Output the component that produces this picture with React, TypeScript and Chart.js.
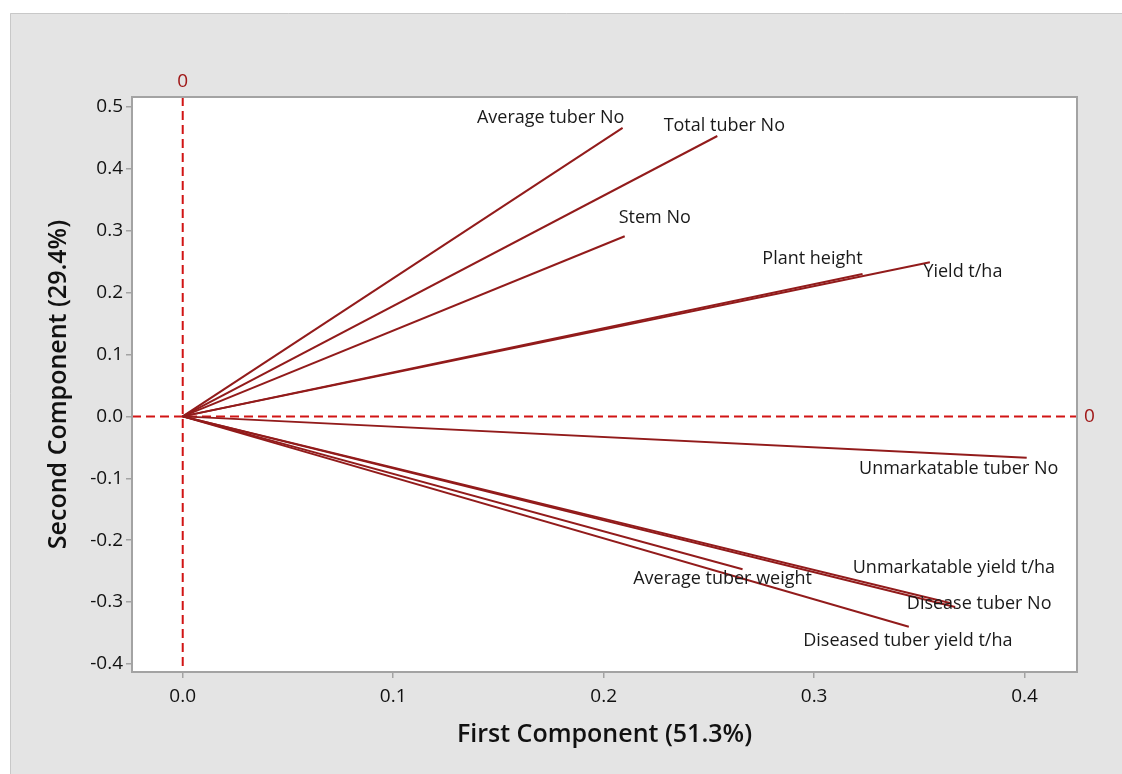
import React, { useEffect, useRef } from 'react';
import { Chart, registerables } from 'chart.js';

Chart.register(...registerables);

// ---- data (loadings) ----
const variables = [
  'Average tuber No',
  'Total tuber No',
  'Stem No',
  'Plant height',
  'Yield t/ha',
  'Unmarkatable tuber No',
  'Unmarkatable yield t/ha',
  'Disease tuber No',
  'Average tuber weight',
  'Diseased tuber yield t/ha',
];
const pc1 = [0.209, 0.254, 0.210, 0.323, 0.355, 0.401, 0.365, 0.367, 0.266, 0.345];
const pc2 = [0.466, 0.453, 0.291, 0.230, 0.249, -0.067, -0.302, -0.308, -0.247, -0.340];

const xRange = [-0.0241, 0.4249];
const yRange = [-0.413, 0.516];
const tickStep = 0.1;
const referenceLines = [0];
const xTitle = 'First Component (51.3%)';
const yTitle = 'Second Component (29.4%)';

// label placement: pixel offset of the text centre from the vector tip
const labelOffsets: number[][] = [
  [-72, -10],
  [7, -10],
  [30, -18],
  [-50, -15],
  [33, 10],
  [-68, 11],
  [3, -35],
  [24, -3],
  [-20, 10],
  [-1, 14],
];

const FONT = '"Open Sans", "Noto Sans", sans-serif';
const LINE_COLOR = '#921b1b';
const REF_COLOR = '#d11414';
const REF_LABEL_COLOR = '#a01818';
const FRAME_COLOR = '#a3a3a3';

const decorPlugin = {
  id: 'decor',
  beforeDraw(chart: any) {
    const { ctx, chartArea: a, width, height } = chart;
    ctx.save();
    ctx.fillStyle = '#ffffff';
    ctx.fillRect(0, 0, width, height);
    ctx.fillStyle = '#e4e4e4';
    ctx.fillRect(10, 13, width - 10, height - 13);
    ctx.strokeStyle = '#c8c8c8';
    ctx.lineWidth = 1;
    ctx.beginPath();
    ctx.moveTo(10.5, height);
    ctx.lineTo(10.5, 13.5);
    ctx.lineTo(width, 13.5);
    ctx.stroke();
    ctx.fillStyle = '#ffffff';
    ctx.fillRect(a.left, a.top, a.right - a.left, a.bottom - a.top);
    ctx.restore();
  },
  beforeDatasetsDraw(chart: any) {
    const { ctx, chartArea: a, scales } = chart;
    ctx.save();
    ctx.strokeStyle = REF_COLOR;
    ctx.lineWidth = 2;
    ctx.setLineDash([9, 5]);
    referenceLines.forEach((v) => {
      const px = scales.x.getPixelForValue(v);
      ctx.beginPath();
      ctx.moveTo(px, a.top);
      ctx.lineTo(px, a.bottom);
      ctx.stroke();
      const py = scales.y.getPixelForValue(v);
      ctx.beginPath();
      ctx.moveTo(a.left, py);
      ctx.lineTo(a.right, py);
      ctx.stroke();
    });
    ctx.restore();
  },
  afterDatasetsDraw(chart: any) {
    const { ctx, scales } = chart;
    ctx.save();
    ctx.fillStyle = '#1a1a1a';
    ctx.font = `18px ${FONT}`;
    ctx.textAlign = 'center';
    ctx.textBaseline = 'middle';
    variables.forEach((name, i) => {
      const px = scales.x.getPixelForValue(pc1[i]);
      const py = scales.y.getPixelForValue(pc2[i]);
      const [dx, dy] = labelOffsets[i];
      ctx.fillText(name, px + dx, py + dy);
    });
    ctx.restore();
  },
  afterDraw(chart: any) {
    const { ctx, chartArea: a, scales } = chart;
    ctx.save();
    ctx.strokeStyle = FRAME_COLOR;
    ctx.lineWidth = 2;
    ctx.strokeRect(a.left, a.top, a.right - a.left, a.bottom - a.top);
    ctx.fillStyle = REF_LABEL_COLOR;
    ctx.font = `19px ${FONT}`;
    ctx.textAlign = 'center';
    ctx.textBaseline = 'middle';
    referenceLines.forEach((v) => {
      const px = scales.x.getPixelForValue(v);
      ctx.fillText(String(v), px, a.top - 15);
      const py = scales.y.getPixelForValue(v);
      ctx.textAlign = 'left';
      ctx.fillText(String(v), a.right + 7, py);
    });
    ctx.restore();
  },
};

export default function App() {
  const canvasRef = useRef<HTMLCanvasElement | null>(null);

  useEffect(() => {
    const canvas = canvasRef.current;
    if (!canvas) return;
    const datasets = variables.map((name, i) => ({
      label: name,
      data: [
        { x: 0, y: 0 },
        { x: pc1[i], y: pc2[i] },
      ],
      showLine: true,
      borderColor: LINE_COLOR,
      backgroundColor: LINE_COLOR,
      borderWidth: 2,
      pointRadius: 0,
      pointHoverRadius: 0,
    }));

    const tickFmt = (v: any) => Number(v).toFixed(1);

    const chart = new Chart(canvas, {
      type: 'scatter',
      data: { datasets },
      plugins: [decorPlugin],
      options: {
        responsive: false,
        animation: false,
        devicePixelRatio: 1,
        layout: { padding: { top: 97, right: 45, bottom: 0, left: 0 } },
        plugins: {
          legend: { display: false },
          tooltip: { enabled: false },
        },
        scales: {
          x: {
            type: 'linear',
            min: xRange[0],
            max: xRange[1],
            ticks: {
              stepSize: tickStep,
              includeBounds: false,
              callback: tickFmt,
              color: '#111111',
              font: { family: FONT, size: 19 },
              padding: 7,
              maxRotation: 0,
            },
            grid: {
              drawOnChartArea: false,
              drawTicks: true,
              tickLength: 6,
              color: FRAME_COLOR,
              lineWidth: 1.5,
            },
            border: { display: false },
            title: {
              display: true,
              text: xTitle,
              color: '#111111',
              font: { family: FONT, size: 25, weight: '600' },
              padding: { top: 0, bottom: 24 },
            },
            afterFit: (s: any) => {
              s.height = 102;
            },
          },
          y: {
            type: 'linear',
            min: yRange[0],
            max: yRange[1],
            ticks: {
              stepSize: tickStep,
              includeBounds: false,
              callback: tickFmt,
              color: '#111111',
              font: { family: FONT, size: 19 },
              padding: 3,
            },
            grid: {
              drawOnChartArea: false,
              drawTicks: true,
              tickLength: 6,
              color: FRAME_COLOR,
              lineWidth: 1.5,
            },
            border: { display: false },
            title: {
              display: true,
              text: yTitle,
              color: '#111111',
              font: { family: FONT, size: 25, weight: '600' },
              padding: { top: 44, bottom: 0 },
            },
            afterFit: (s: any) => {
              s.width = 132;
            },
          },
        },
      },
    } as any);

    return () => {
      chart.destroy();
    };
  }, []);

  return (
    <div style={{ position: 'absolute', left: 0, top: 0, width: 1122, height: 774 }}>
      <canvas ref={canvasRef} width={1122} height={774} style={{ display: 'block' }} />
    </div>
  );
}
